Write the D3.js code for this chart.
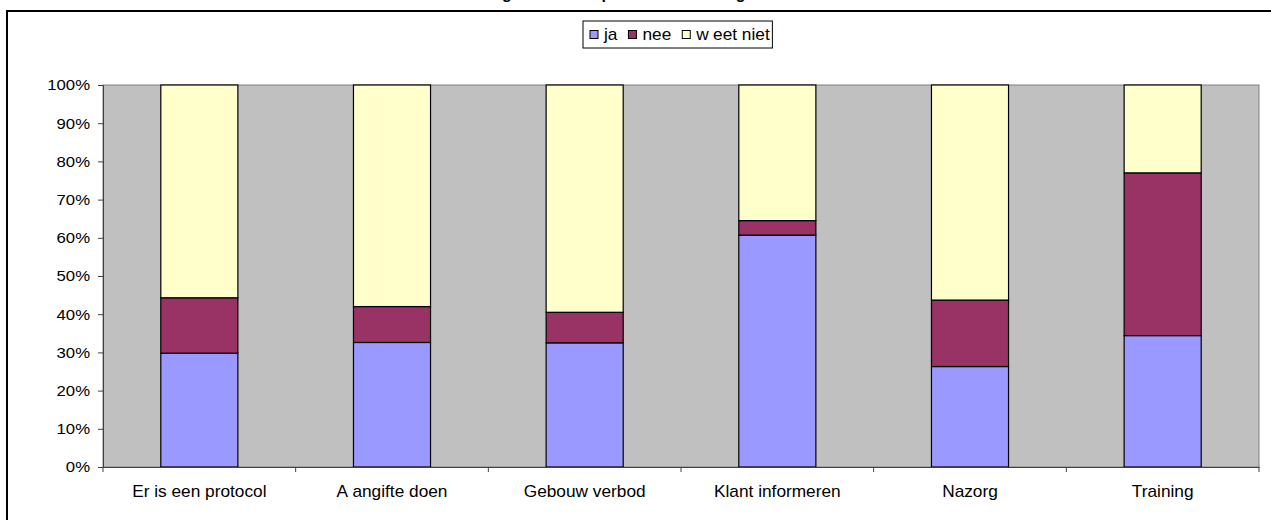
<!DOCTYPE html>
<html>
<head>
<meta charset="utf-8">
<script src="https://cdn.jsdelivr.net/npm/d3@7"></script>
<style>
  body { margin: 0; background: #ffffff; }
  svg { display: block; font-family: "Liberation Sans", Arial, sans-serif; }
</style>
</head>
<body>
<svg id="chart" width="1271" height="520"></svg>
<script>
// Survey answers per measure, in percent of respondents
const categories = ["Er is een protocol", "Aangifte doen", "Gebouw verbod", "Klant informeren", "Nazorg", "Training"];
const seriesNames = ["ja", "nee", "weet niet"];
const jaValues = [29.8, 32.6, 32.5, 60.7, 26.3, 34.4];
const neeValues = [14.5, 9.4, 8.0, 3.8, 17.4, 42.6];
const weetNietValues = [55.7, 58.0, 59.5, 35.5, 56.3, 23.0];
const yTickValues = [0, 10, 20, 30, 40, 50, 60, 70, 80, 90, 100];
const titleText = "Vragen over het protocol en nazorg";

const colors = { "ja": "#9999FF", "nee": "#993366", "weet niet": "#FFFFCC" };
// labels that the source renders with a wide kern after the first letter
const kernAfterFirst = new Set(["Aangifte doen", "weet niet"]);

const svg = d3.select("#chart");
const W = 1271, H = 520;
const plot = { left: 103, right: 1259, top: 85, bottom: 467 };
const stretch = 1.08;

const rows = categories.map((c, i) => ({
  category: c,
  "ja": jaValues[i],
  "nee": neeValues[i],
  "weet niet": weetNietValues[i]
}));

function writeLabel(sel, str) {
  sel.text(null);
  if (kernAfterFirst.has(str)) {
    sel.append("tspan").text(str.slice(0, 1));
    sel.append("tspan").attr("dx", 4).text(str.slice(1));
  } else {
    sel.text(str);
  }
}

// chart frame
svg.append("rect")
  .attr("x", 7).attr("y", 11)
  .attr("width", W + 20).attr("height", H + 20)
  .attr("fill", "#ffffff")
  .attr("stroke", "#000000").attr("stroke-width", 2);

// title (sits above the frame)
svg.append("text")
  .attr("x", 477).attr("y", -1)
  .attr("font-size", 16).attr("font-weight", "bold")
  .attr("fill", "#000")
  .text(titleText);

// scales
const xCat = d3.scaleBand().domain(categories).range([plot.left, plot.right]);
const xBar = d3.scaleBand().domain(categories).range([plot.left, plot.right])
  .paddingInner(0.6).paddingOuter(0.3);
const y = d3.scaleLinear().domain([0, 100]).range([plot.bottom, plot.top]);

// plot background
svg.append("rect")
  .attr("x", plot.left).attr("y", plot.top)
  .attr("width", plot.right - plot.left).attr("height", plot.bottom - plot.top)
  .attr("fill", "#C0C0C0")
  .attr("stroke", "#808080").attr("stroke-width", 1);

// stacked bars
const stacked = d3.stack().keys(seriesNames)(rows);
svg.append("g")
  .selectAll("g")
  .data(stacked)
  .join("g")
  .attr("fill", d => colors[d.key])
  .selectAll("rect")
  .data(d => d)
  .join("rect")
  .attr("x", d => xBar(d.data.category))
  .attr("y", d => y(d[1]))
  .attr("width", xBar.bandwidth())
  .attr("height", d => y(d[0]) - y(d[1]))
  .attr("stroke", "#000").attr("stroke-width", 1.2);

// y axis
const yAxis = svg.append("g")
  .attr("transform", `translate(${plot.left},0)`)
  .call(d3.axisLeft(y).tickValues(yTickValues).tickFormat(d => d + "%").tickSize(5).tickPadding(7));
yAxis.select(".domain").attr("stroke", "#404040");
yAxis.selectAll(".tick line").attr("stroke", "#404040");
yAxis.selectAll(".tick text")
  .attr("font-size", 15.5)
  .attr("font-family", "Liberation Sans, Arial, sans-serif")
  .attr("fill", "#000")
  .attr("transform", `scale(${stretch},1)`);

// x axis
const xAxis = svg.append("g")
  .attr("transform", `translate(0,${plot.bottom})`)
  .call(d3.axisBottom(xCat).tickSize(0).tickPadding(19));
xAxis.select(".domain").attr("stroke", "#404040");
xAxis.selectAll(".tick text")
  .attr("font-size", 16)
  .attr("font-family", "Liberation Sans, Arial, sans-serif")
  .attr("fill", "#000")
  .attr("transform", `scale(${stretch},1)`)
  .each(function (d) { writeLabel(d3.select(this), d); });

// category separator ticks
const bounds = categories.map(c => xCat(c)).concat([plot.right]);
xAxis.selectAll("line.sep")
  .data(bounds)
  .join("line")
  .attr("class", "sep")
  .attr("x1", d => d).attr("x2", d => d)
  .attr("y1", 0).attr("y2", 5)
  .attr("stroke", "#404040");

// legend
const legend = svg.append("g").attr("transform", "translate(583,21)");
const legendBox = legend.append("rect")
  .attr("x", 0).attr("y", 0).attr("height", 27)
  .attr("fill", "#fff").attr("stroke", "#000").attr("stroke-width", 1);
let cursor = 7;
seriesNames.forEach(name => {
  legend.append("rect")
    .attr("x", cursor).attr("y", 9.5).attr("width", 8).attr("height", 8)
    .attr("fill", colors[name]).attr("stroke", "#000").attr("stroke-width", 1);
  cursor += 14;
  const t = legend.append("text")
    .attr("x", 0).attr("y", 0)
    .attr("font-size", 16).attr("fill", "#000")
    .attr("transform", `translate(${cursor},19) scale(${stretch},1)`);
  writeLabel(t, name);
  cursor += t.node().getComputedTextLength() * stretch + 11;
});
legendBox.attr("width", cursor - 4);
</script>
</body>
</html>
